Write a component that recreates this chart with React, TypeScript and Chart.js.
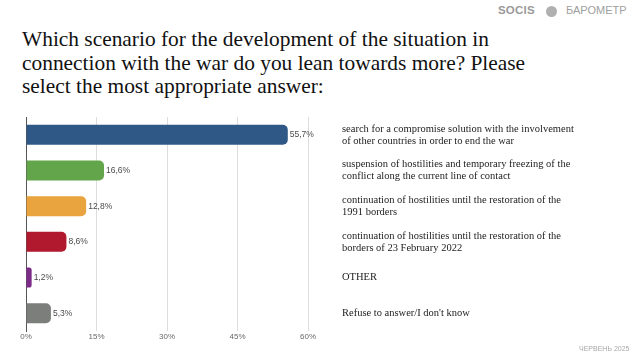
import React, { useEffect, useRef } from "react";
import { Chart, registerables } from "chart.js";

Chart.register(...registerables);

const titleLines = [
  "Which scenario for the development of the situation in",
  "connection with the war do you lean towards more? Please",
  "select the most appropriate answer:",
];

const categories: string[][] = [
  ["search for a compromise solution with the involvement", "of other countries in order to end the war"],
  ["suspension of hostilities and temporary freezing of the", "conflict along the current line of contact"],
  ["continuation of hostilities until the restoration of the", "1991 borders"],
  ["continuation of hostilities until the restoration of the", "borders of 23 February 2022"],
  ["OTHER"],
  ["Refuse to answer/I don't know"],
];

const values = [55.7, 16.6, 12.8, 8.6, 1.2, 5.3];
const valueLabels = ["55,7%", "16,6%", "12,8%", "8,6%", "1,2%", "5,3%"];
const barColors = ["#305886", "#62a54a", "#e9a43f", "#b1192f", "#7d2b88", "#7c7e7c"];
const xTicks = [0, 15, 30, 45, 60];

const SERIF = "'Liberation Serif', serif";
const SANS = "'Liberation Sans', Arial, sans-serif";

const valueLabelPlugin = {
  id: "valueLabels",
  afterDatasetsDraw(chart: any) {
    const ctx = chart.ctx;
    const meta = chart.getDatasetMeta(0);
    ctx.save();
    ctx.font = "8.5px " + SANS;
    ctx.fillStyle = "#4a4a4a";
    ctx.textAlign = "left";
    ctx.textBaseline = "middle";
    meta.data.forEach((el: any, i: number) => {
      ctx.fillText(valueLabels[i], el.x + 2, el.y);
    });
    ctx.restore();
  },
};

export default function App() {
  const ref = useRef<HTMLCanvasElement | null>(null);

  useEffect(() => {
    if (!ref.current) return;
    const chart = new Chart(ref.current, {
      type: "bar",
      data: {
        labels: categories.map((c) => c.join(" ")),
        datasets: [
          {
            data: values,
            backgroundColor: barColors,
            borderRadius: 5,
            borderSkipped: "start",
            barPercentage: 0.56,
            categoryPercentage: 1,
          },
        ],
      },
      options: {
        indexAxis: "y",
        animation: false,
        responsive: false,
        maintainAspectRatio: false,
        layout: { padding: { top: 117, bottom: 14, left: 0, right: 0 } },
        plugins: {
          legend: { display: false },
          tooltip: { enabled: false },
          title: { display: false },
        },
        scales: {
          x: {
            min: 0,
            max: 60,
            afterBuildTicks: (axis: any) => {
              axis.ticks = xTicks.map((v) => ({ value: v }));
            },
            afterFit: (axis: any) => {
              axis.height = 14;
              axis.paddingLeft = 0;
              axis.paddingRight = 0;
            },
            grid: { color: "#dddddd", lineWidth: 1, drawTicks: false },
            border: { display: false },
            ticks: {
              padding: 1,
              color: "#6a6a6a",
              font: { family: SANS, size: 8 },
              callback: (v: any) => v + "%",
              maxRotation: 0,
            },
          },
          y: {
            position: "left",
            offset: true,
            afterFit: (axis: any) => {
              axis.width = 26;
              axis.paddingTop = 0;
              axis.paddingBottom = 0;
            },
            grid: { display: false, drawTicks: false },
            border: { display: true, color: "#555555", width: 1 },
            ticks: { display: false },
          },
          y2: {
            type: "category",
            position: "right",
            labels: categories as any,
            offset: true,
            afterFit: (axis: any) => {
              axis.width = 332;
              axis.paddingTop = 0;
              axis.paddingBottom = 0;
            },
            grid: { display: false, drawTicks: false },
            border: { display: false },
            ticks: {
              padding: 34,
              color: "#222222",
              crossAlign: "near",
              font: { family: SERIF, size: 10.5, lineHeight: 1.15 },
            },
          },
        },
      },
      plugins: [valueLabelPlugin],
    });
    return () => chart.destroy();
  }, []);

  return (
    <div
      style={{
        position: "fixed",
        left: 0,
        top: 0,
        width: 640,
        height: 359,
        background: "#ffffff",
        overflow: "hidden",
      }}
    >
      <div
        style={{
          position: "absolute",
          left: 498,
          top: 4,
          fontFamily: SANS,
          fontWeight: 700,
          fontSize: 11.5,
          color: "#9a9a9a",
          letterSpacing: 0.2,
        }}
      >
        SOCIS
      </div>
      <div
        style={{
          position: "absolute",
          left: 546,
          top: 6,
          width: 11,
          height: 11,
          borderRadius: "50%",
          background: "#b0b0b0",
        }}
      />
      <div
        style={{
          position: "absolute",
          left: 566,
          top: 4,
          fontFamily: SANS,
          fontSize: 11,
          color: "#a0a0a0",
        }}
      >
        БАРОМЕТР
      </div>
      <div
        style={{
          position: "absolute",
          left: 22,
          top: 28,
          fontFamily: SERIF,
          fontSize: 21.4,
          lineHeight: "23.5px",
          color: "#111111",
          whiteSpace: "nowrap",
        }}
      >
        {titleLines.map((l, i) => (
          <div key={i}>{l}</div>
        ))}
      </div>
      <canvas
        ref={ref}
        width={640}
        height={359}
        style={{ position: "absolute", left: 0, top: 0, width: 640, height: 359 }}
      />
      <div
        style={{
          position: "absolute",
          left: 579,
          top: 345,
          fontFamily: SANS,
          fontSize: 7,
          color: "#a8a8a8",
        }}
      >
        ЧЕРВЕНЬ 2025
      </div>
    </div>
  );
}
